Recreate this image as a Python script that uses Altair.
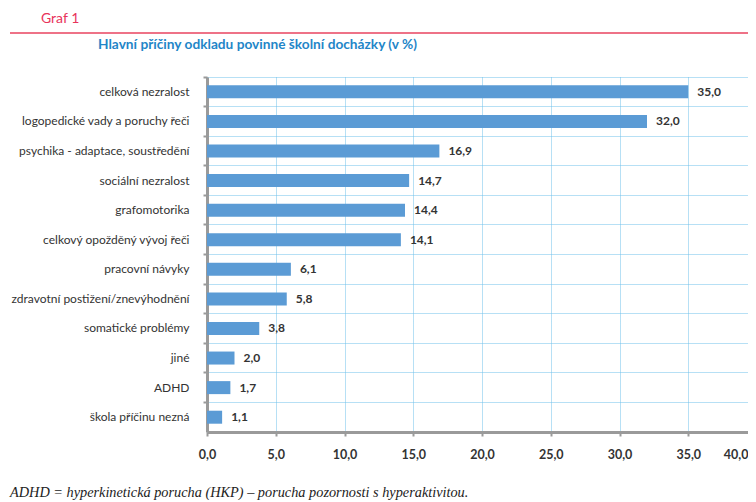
import altair as alt
import pandas as pd

categories = [
    "celková nezralost",
    "logopedické vady a poruchy řeči",
    "psychika - adaptace, soustředění",
    "sociální nezralost",
    "grafomotorika",
    "celkový opožděný vývoj řeči",
    "pracovní návyky",
    "zdravotní postižení/znevýhodnění",
    "somatické problémy",
    "jiné",
    "ADHD",
    "škola příčinu nezná",
]
values = [35.0, 32.0, 16.9, 14.7, 14.4, 14.1, 6.1, 5.8, 3.8, 2.0, 1.7, 1.1]
x_ticks = [0, 5, 10, 15, 20, 25, 30, 35, 40]

graf_label = "Graf 1"
title_text = "Hlavní příčiny odkladu povinné školní docházky (v %)"
footer_text = "ADHD = hyperkinetická porucha (HKP) – porucha pozornosti s hyperaktivitou."

FONT = "Lato, sans-serif"
W = 533
H = 355
GRID = "#6ec0ea"
AXIS = "#9a9a9a"
BAR = "#5b9bd5"

df = pd.DataFrame({"kat": categories, "hodnota": values})

czech = "replace(format(datum.value, '.1f'), '.', ',')"

y_enc = alt.Y(
    "kat:N",
    sort=categories,
    scale=alt.Scale(paddingInner=0, paddingOuter=0),
    axis=alt.Axis(
        title=None, bandPosition=0, grid=True, gridColor=GRID, gridDash=[1, 1],
        gridWidth=1, domainColor=AXIS, domainWidth=3, tickColor=AXIS, tickSize=4,
        tickWidth=2, labelPadding=14, labelFont=FONT, labelFontSize=12,
        labelColor="#333333", labelLimit=260,
    ),
)
x_enc = alt.X(
    "hodnota:Q",
    scale=alt.Scale(domain=[0, 40], range=[0, 550], nice=False),
    axis=alt.Axis(
        title=None, values=x_ticks, labelExpr=czech, grid=True, gridColor=GRID,
        gridDash=[1, 1], gridWidth=1, domainColor=AXIS, domainWidth=3,
        tickColor=AXIS, tickSize=4, tickWidth=2, labelPadding=12, labelFont=FONT,
        labelFontSize=12.5, labelFontWeight="bold", labelColor="#333333",
        labelFlush=False,
        labelAlign={"condition": {"test": "datum.value == 40", "value": "right"}, "value": "center"},
        labelOffset={"condition": {"test": "datum.value == 40", "value": -9}, "value": 0},
    ),
)

base = alt.Chart(df).encode(y=y_enc, x=x_enc)
bars = base.mark_bar(size=13, color=BAR)
labels = base.transform_calculate(
    lab="replace(format(datum.hodnota, '.1f'), '.', ',')"
).mark_text(
    align="left", baseline="middle", dx=9, font=FONT, fontSize=12,
    fontWeight="bold", color="#333333",
).encode(text="lab:N")

graf = alt.Chart(pd.DataFrame({"t": [graf_label]})).mark_text(
    align="left", baseline="middle", font=FONT, fontSize=14, color="#e8335a"
).encode(text="t:N", x=alt.value(-166), y=alt.value(-58))

red_line = alt.Chart(pd.DataFrame({"t": [graf_label]})).mark_rule(
    color="#e8435f", strokeWidth=1.5
).encode(x=alt.value(-197), x2=alt.value(W + 20), y=alt.value(-44))

title = alt.Chart(pd.DataFrame({"t": [title_text]})).mark_text(
    align="left", baseline="middle", font=FONT, fontSize=13.7, fontWeight="bold",
    color="#1f86c8",
).encode(text="t:N", x=alt.value(-109), y=alt.value(-32))

footer = alt.Chart(pd.DataFrame({"t": [footer_text]})).mark_text(
    align="left", baseline="middle", font="Liberation Serif, serif", fontSize=14.3,
    fontStyle="italic", color="#222222",
).encode(text="t:N", x=alt.value(-197), y=alt.value(416))

chart = alt.layer(bars, labels, red_line, graf, title, footer).properties(
    width=W, height=H,
    autosize=alt.AutoSizeParams(type="none"),
    padding={"left": 199, "top": 69, "right": 8, "bottom": 68},
).configure_view(stroke=None)

chart.save("out.html", embed_options={"renderer": "svg", "actions": False})
